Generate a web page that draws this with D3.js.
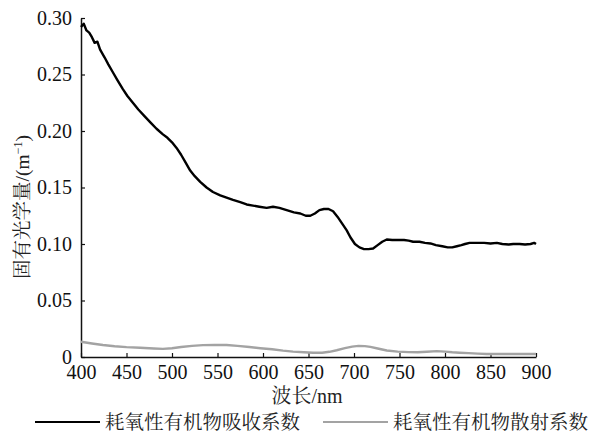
<!DOCTYPE html>
<html>
<head>
<meta charset="utf-8">
<script src="https://cdn.jsdelivr.net/npm/d3@7"></script>
<style>
  body { margin: 0; background: #fff; }
  svg { display: block; }
</style>
</head>
<body>
<script>
// wavelength (nm) and values
var absWl = [400,403,406,409,412,415,418,421,426,430,435,440,446,451,457,463,470,477,483,490,495,500,505,510,515,520,525,531,538,545,553,560,567,575,582,589,596,604,611,618,626,634,641,647,652,657,662,667,672,677,682,687,692,696,701,706,711,716,721,726,731,736,742,748,755,760,765,772,778,784,790,797,803,808,813,818,822,827,835,843,850,857,863,870,875,882,888,894,898,900];
var absVal = [0.292,0.295,0.289,0.287,0.283,0.278,0.279,0.272,0.265,0.259,0.252,0.245,0.237,0.231,0.225,0.219,0.213,0.207,0.202,0.197,0.194,0.190,0.185,0.179,0.172,0.165,0.160,0.155,0.150,0.146,0.143,0.141,0.139,0.137,0.135,0.134,0.133,0.132,0.133,0.132,0.130,0.128,0.127,0.125,0.125,0.127,0.130,0.131,0.131,0.129,0.124,0.118,0.112,0.106,0.100,0.097,0.0955,0.0955,0.096,0.099,0.102,0.104,0.1035,0.1035,0.1035,0.103,0.102,0.102,0.101,0.1005,0.099,0.098,0.097,0.097,0.098,0.099,0.100,0.101,0.101,0.101,0.1005,0.101,0.100,0.0995,0.100,0.100,0.0995,0.100,0.101,0.100];

var scaWl = [400,412,424,437,450,465,480,490,500,510,522,534,547,560,572,585,597,610,622,633,645,655,665,673,681,690,698,705,712,718,726,736,748,760,770,780,791,800,808,816,826,836,846,856,866,876,888,900];
var scaVal = [0.0135,0.012,0.0106,0.0095,0.0087,0.0082,0.0075,0.0072,0.0078,0.0088,0.0098,0.0105,0.0107,0.0106,0.0098,0.0088,0.0078,0.0068,0.0056,0.0048,0.0042,0.0038,0.0038,0.0046,0.006,0.0078,0.0092,0.0098,0.0096,0.009,0.0075,0.0058,0.0048,0.0043,0.0042,0.0046,0.0052,0.0048,0.0042,0.0038,0.0034,0.003,0.0027,0.0028,0.0026,0.0028,0.0026,0.0027];

var xTicks = [400,450,500,550,600,650,700,750,800,850,900];
var yTicks = [0,0.05,0.10,0.15,0.20,0.25,0.30];
var seriesNames = ["耗氧性有机物吸收系数","耗氧性有机物散射系数"];

var W = 595, H = 434;
var FONT = "'Liberation Serif', 'Noto Serif CJK SC', serif";
var svg = d3.select("body").append("svg").attr("width",W).attr("height",H);

var x = d3.scaleLinear().domain([400,900]).range([81,536]);
var y = d3.scaleLinear().domain([0,0.30]).range([357,18]);

// axes, ticks point inward
var xAxis = d3.axisBottom(x).tickValues(xTicks).tickSizeInner(-4).tickSizeOuter(0).tickPadding(8).tickFormat(d3.format("d"));
var yAxis = d3.axisLeft(y).tickValues(yTicks).tickSizeInner(-4).tickSizeOuter(0).tickPadding(9)
              .tickFormat(function(d){ return d === 0 ? "0" : d3.format(".2f")(d); });

var gx = svg.append("g").attr("transform","translate(0,357)").call(xAxis);
var gy = svg.append("g").attr("transform","translate(81,0)").call(yAxis);
[gx,gy].forEach(function(g){
  g.select(".domain").attr("stroke","#111").attr("stroke-width",1.5);
  g.selectAll(".tick line").attr("stroke","#111").attr("stroke-width",1.2);
  g.selectAll(".tick text").style("font-family",FONT).style("font-size","20px").attr("fill","#111");
});

var line = d3.line()
  .x(function(d){ return x(d[0]); })
  .y(function(d){ return y(d[1]); });

svg.append("path")
  .datum(d3.zip(scaWl, scaVal))
  .attr("fill","none").attr("stroke","#a3a3a3").attr("stroke-width",2.4)
  .attr("d", line);

svg.append("path")
  .datum(d3.zip(absWl, absVal))
  .attr("fill","none").attr("stroke","#000").attr("stroke-width",2.4)
  .attr("stroke-linejoin","round")
  .attr("d", line);

// axis titles
svg.append("text")
  .attr("x",307).attr("y",403)
  .attr("text-anchor","middle")
  .style("font-family",FONT)
  .style("font-size","20px").attr("fill","#222")
  .text("波长/nm");

var yt = svg.append("text")
  .attr("transform","translate(29,207) rotate(-90)")
  .attr("text-anchor","middle")
  .style("font-family",FONT)
  .style("font-size","19.5px").attr("fill","#222");
yt.append("tspan").text("固有光学量/(m");
yt.append("tspan").attr("dy",-7).style("font-size","12px").text("−1");
yt.append("tspan").attr("dy",7).text(")");

// legend
var legend = svg.append("g");
var legX = [35,323];
var legCol = ["#000","#a3a3a3"];
legend.selectAll("line").data(seriesNames).enter().append("line")
  .attr("x1",function(d,i){ return legX[i]; })
  .attr("x2",function(d,i){ return legX[i]+65; })
  .attr("y1",422).attr("y2",422)
  .attr("stroke",function(d,i){ return legCol[i]; })
  .attr("stroke-width",2);
legend.selectAll("text").data(seriesNames).enter().append("text")
  .attr("x",function(d,i){ return legX[i]+70; })
  .attr("y",429)
  .style("font-family",FONT)
  .style("font-size","19.5px").attr("fill","#222")
  .text(function(d){ return d; });
</script>
</body>
</html>
